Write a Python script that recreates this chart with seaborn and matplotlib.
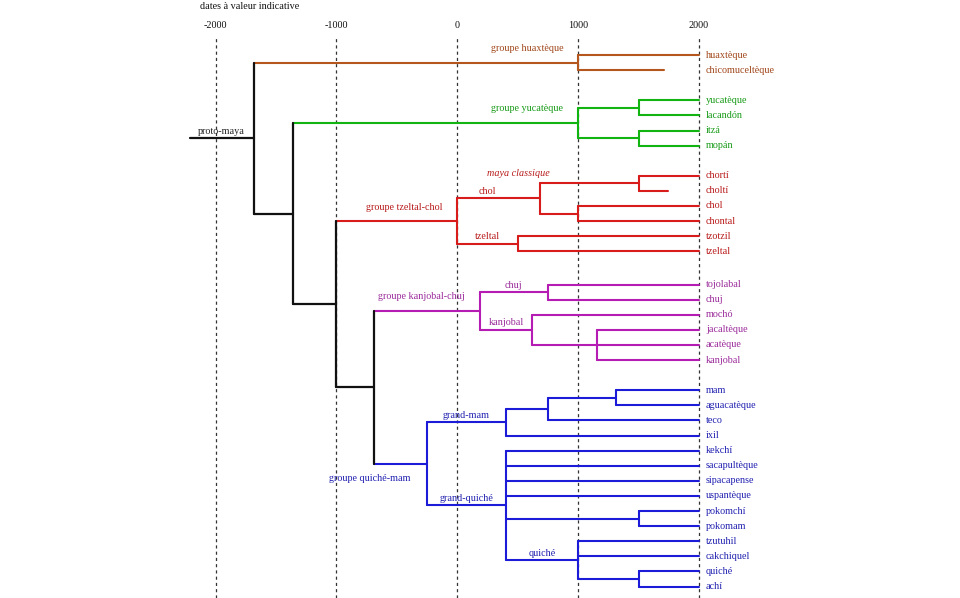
import numpy as np
import pandas as pd
import matplotlib
matplotlib.use("Agg")
import matplotlib.pyplot as plt
import seaborn as sns

# ---------------- data ----------------
leaf_names = ["huaxtèque", "chicomuceltèque",
              "yucatèque", "lacandón", "itzá", "mopán",
              "chortí", "choltí", "chol", "chontal", "tzotzil", "tzeltal",
              "tojolabal", "chuj", "mochó", "jacaltèque", "acatèque", "kanjobal",
              "mam", "aguacatèque", "teco", "ixil", "kekchí", "sacapultèque",
              "sipacapense", "uspantèque", "pokomchí", "pokomam", "tzutuhil",
              "cakchiquel", "quiché", "achí"]
leaf_rows = [0, 1,
             3, 4, 5, 6,
             8, 9, 10, 11, 12, 13,
             15.2, 16.2, 17.2, 18.2, 19.2, 20.2,
             22.2, 23.2, 24.2, 25.2, 26.2, 27.2, 28.2, 29.2, 30.2, 31.2,
             32.2, 33.2, 34.2, 35.2]
leaf_end = [2000, 1710,
            2000, 2000, 2000, 2000,
            2000, 1745, 2000, 2000, 2000, 2000,
            2000, 2000, 2000, 2000, 2000, 2000,
            2000, 2000, 2000, 2000, 2000, 2000, 2000, 2000, 2000, 2000,
            2000, 2000, 2000, 2000]
leaf_clade = ["huax"] * 2 + ["yuc"] * 4 + ["tzch"] * 6 + ["kach"] * 6 + ["quma"] * 14

node_ids = ["root", "g_huax", "nA", "g_yuc", "n_yl", "n_im", "nB", "g_tzch",
            "n_chol", "n_class", "n_cc", "n_tzel", "nC", "g_kach", "n_chuj",
            "n_kanj", "n_jak", "g_quma", "n_gmam", "n_mat", "n_ma", "n_gqui",
            "n_pok", "n_qui", "n_qa"]
node_years = [-1685, 1000, -1357, 1000, 1500, 1500, -1003, 0,
              685, 1500, 1000, 500, -687, 185, 750,
              622, 1153, -251, 405, 750, 1311, 405,
              1500, 1000, 1500]
node_children = [["g_huax", "nA"], ["huaxtèque", "chicomuceltèque"],
                 ["g_yuc", "nB"], ["n_yl", "n_im"], ["yucatèque", "lacandón"],
                 ["itzá", "mopán"], ["g_tzch", "nC"], ["n_chol", "n_tzel"],
                 ["n_class", "n_cc"], ["chortí", "choltí"], ["chol", "chontal"],
                 ["tzotzil", "tzeltal"], ["g_kach", "g_quma"],
                 ["n_chuj", "n_kanj"], ["tojolabal", "chuj"],
                 ["mochó", "n_jak"], ["jacaltèque", "acatèque", "kanjobal"],
                 ["n_gmam", "n_gqui"], ["n_mat", "ixil"], ["n_ma", "teco"],
                 ["mam", "aguacatèque"],
                 ["kekchí", "sacapultèque", "sipacapense", "uspantèque", "n_pok", "n_qui"],
                 ["pokomchí", "pokomam"], ["tzutuhil", "cakchiquel", "n_qa"],
                 ["quiché", "achí"]]
node_clade = ["trunk", "huax", "trunk", "yuc", "yuc", "yuc", "trunk", "tzch",
              "tzch", "tzch", "tzch", "tzch", "trunk", "kach", "kach",
              "kach", "kach", "quma", "quma", "quma", "quma", "quma",
              "quma", "quma", "quma"]
root_stem_start = -2215

# node labels: id -> (text, style)
node_labels = {
    "root": ("proto-maya", "sub"),
    "g_huax": ("groupe huaxtèque", "group"),
    "g_yuc": ("groupe yucatèque", "group"),
    "g_tzch": ("groupe tzeltal-chol", "group"),
    "n_chol": ("chol", "sub"),
    "n_tzel": ("tzeltal", "sub"),
    "n_class": ("maya classique", "italic"),
    "g_kach": ("groupe kanjobal-chuj", "group"),
    "n_chuj": ("chuj", "sub"),
    "n_kanj": ("kanjobal", "sub"),
    "g_quma": ("groupe quiché-mam", "below"),
    "n_gmam": ("grand-mam", "sub"),
    "n_gqui": ("grand-quiché", "sub"),
    "n_qui": ("quiché", "sub"),
}

tick_years = [-2000, -1000, 0, 1000, 2000]
tick_labels = ["-2000", "-1000", "0", "1000", "2000"]
title_text = "dates à valeur indicative"

palette = {"trunk": "#111111", "huax": "#b5561e", "yuc": "#12b412",
           "tzch": "#d81c1c", "kach": "#b41cb4", "quma": "#1c1cd8"}
text_palette = {"trunk": "#222222", "huax": "#a0461a", "yuc": "#169a16",
                "tzch": "#b81a1a", "kach": "#9a2a9a", "quma": "#2020b0"}

# ---------------- tree layout ----------------
leaf_info = {n: (e, r, c) for n, e, r, c in zip(leaf_names, leaf_end, leaf_rows, leaf_clade)}
node_info = {i: (yr, ch, c) for i, yr, ch, c in zip(node_ids, node_years, node_children, node_clade)}
parent_of = {ch: i for i in node_ids for ch in node_info[i][1]}

ypos = {}


def get_y(name):
    if name in ypos:
        return ypos[name]
    if name in leaf_info:
        y = leaf_info[name][1]
    else:
        ys = [get_y(c) for c in node_info[name][1]]
        y = (min(ys) + max(ys)) / 2.0
    ypos[name] = y
    return y


def get_x(name):
    return leaf_info[name][0] if name in leaf_info else node_info[name][0]


def get_clade(name):
    return leaf_info[name][2] if name in leaf_info else node_info[name][2]


segs = []
sid = 0
for nid in node_ids:
    nx = get_x(nid)
    ys = [get_y(c) for c in node_info[nid][1]]
    segs.append((sid, nx, min(ys), node_info[nid][2])); segs.append((sid, nx, max(ys), node_info[nid][2])); sid += 1
    for c in node_info[nid][1]:
        cy = get_y(c)
        segs.append((sid, nx, cy, get_clade(c))); segs.append((sid, get_x(c), cy, get_clade(c))); sid += 1
ry = get_y("root")
segs.append((sid, root_stem_start, ry, "trunk")); segs.append((sid, get_x("root"), ry, "trunk"))
df = pd.DataFrame(segs, columns=["seg", "x", "y", "clade"])

# ---------------- figure ----------------
W, H = 960, 598
PXY = 0.12085      # px per year
X0 = 457.3         # px of year 0
ROW0, ROWH = 55.0, 15.1
TOP = 36

sns.set_theme(style="white")
plt.rcParams["font.family"] = ["Liberation Serif", "DejaVu Serif"]
FS = 7.3

fig = plt.figure(figsize=(W / 100, H / 100), dpi=100)
fig.patch.set_facecolor("white")
ax = fig.add_axes([0, 0, 1, (H - TOP) / H])
ax.set_facecolor("white")

trunk = df[df.clade == "trunk"]
rest = df[df.clade != "trunk"]
sns.lineplot(data=rest, x="x", y="y", hue="clade", units="seg", estimator=None,
             sort=False, palette=palette, legend=False, lw=1.5, ax=ax, zorder=3)
sns.lineplot(data=trunk, x="x", y="y", units="seg", estimator=None, sort=False,
             color=palette["trunk"], legend=False, lw=1.6, ax=ax, zorder=3)

ax.set_xlim(-X0 / PXY, (W - X0) / PXY)
ax.set_ylim((H - ROW0) / ROWH, (TOP - ROW0) / ROWH)
ax.set_xlabel(""); ax.set_ylabel("")
for s in ax.spines.values():
    s.set_visible(False)
ax.set_yticks([])
ax.set_xticks(tick_years)
ax.set_xticklabels(tick_labels, fontsize=FS)
ax.xaxis.tick_top()
ax.tick_params(axis="x", length=0, pad=4.0, labelcolor="#111111")
ax.grid(False)
for t in tick_years:
    ax.axvline(t, color="#333333", lw=0.9, ls=(0, (2.5, 2.5)), zorder=1)

fig.text(200 / W, 1 - 6.5 / H, title_text, fontsize=FS, ha="left", va="center", color="#111111")

P = 0.72  # points per pixel
# leaf labels
for n in leaf_names:
    ax.annotate(n, (2000, get_y(n)), xytext=(7 * P, 0), textcoords="offset points",
                ha="left", va="center", fontsize=FS, color=text_palette[leaf_info[n][2]])

# node labels
for nid, (txt, style) in node_labels.items():
    nx, ny = get_x(nid), get_y(nid)
    col = text_palette[node_info[nid][2]]
    if nid == "root":
        px_ = (root_stem_start + nx) / 2
    else:
        px_ = (get_x(parent_of[nid]) + nx) / 2
    if style == "group":
        ax.annotate(txt, (nx, ny), xytext=(-15 * P, 14 * P), textcoords="offset points",
                    ha="right", va="center", fontsize=FS, color=col)
    elif style == "below":
        ax.annotate(txt, (nx, ny), xytext=(-16 * P, -15 * P), textcoords="offset points",
                    ha="right", va="center", fontsize=FS, color=col)
    elif style == "italic":
        ax.annotate(txt, (nx, ny), xytext=(-120 * P, 10 * P), textcoords="offset points",
                    ha="center", va="center", fontsize=FS, color=col, style="italic")
    else:
        dx = -11 if nid == "n_chol" else 0
        ax.annotate(txt, (px_, ny), xytext=(dx * P, 7 * P), textcoords="offset points",
                    ha="center", va="center", fontsize=FS, color=col)

fig.savefig("out.png", dpi=100)
